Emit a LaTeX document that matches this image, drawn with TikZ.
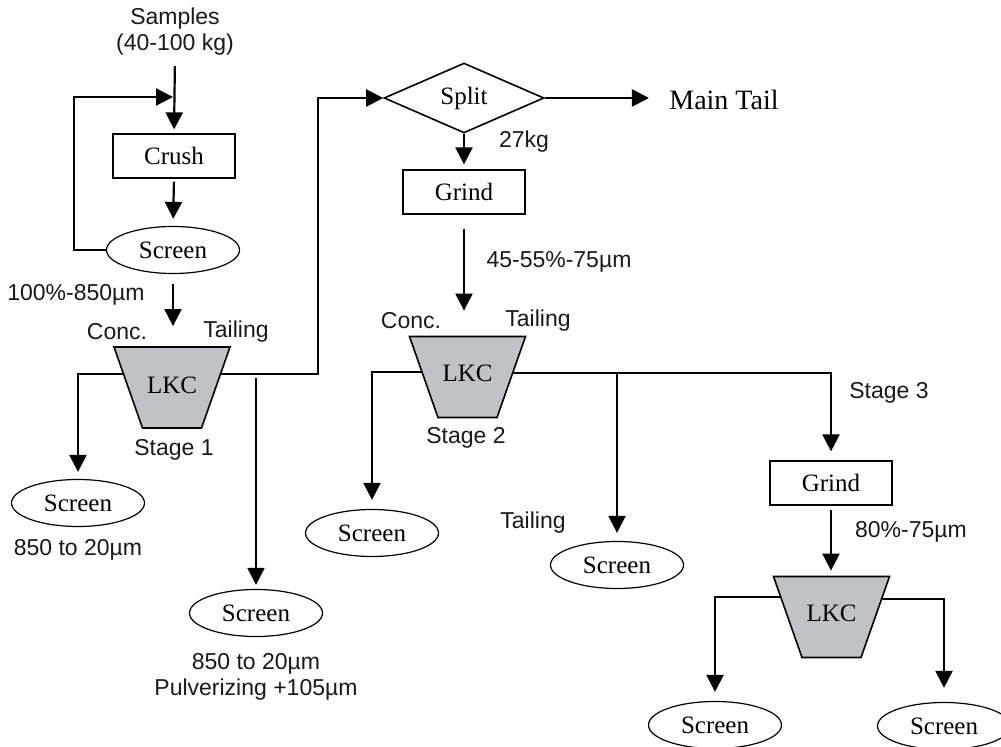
\documentclass[tikz,border=0pt]{standalone}
\usepackage{fontspec}
\setmainfont{Liberation Serif}
\newfontfamily\labelsans{Liberation Sans}
\usetikzlibrary{shapes.geometric,arrows.meta,backgrounds}
\definecolor{lkcgrey}{HTML}{C1C2C5}
\begin{document}
\begin{tikzpicture}[x=0.5pt,y=-0.5pt,
  serif/.style={font=\fontsize{12.5}{15}\selectfont},
  lbl/.style={font=\labelsans\fontsize{11.5}{13}\selectfont, inner sep=0pt, text=black!90},
  flow/.style={line width=1.1pt, -{Triangle[length=8.5pt,width=8.5pt]}},
  boxnode/.style={draw, line width=0.6pt, minimum width=61pt, minimum height=22pt, inner sep=0pt, serif},
  screennode/.style={draw, ellipse, line width=0.6pt, minimum width=66.5pt, minimum height=23.5pt, inner sep=0pt, serif},
  lkcnode/.style={inner sep=0pt, serif},
  lkcshape/.style={draw, fill=lkcgrey, line width=0.8pt, line join=miter},
  splitnode/.style={draw, diamond, minimum width=80pt, minimum height=26.5pt, inner sep=0pt, line width=0.8pt, serif}
]
\useasboundingbox (0,0) rectangle (1001,747);

% ---- nodes
\node[lbl, align=center] (samples) at (175,32) {Samples\\(40-100 kg)};
\node[boxnode] (crush) at (174,156) {Crush};
\node[screennode] (scr0) at (173,250) {Screen};
\coordinate (in0) at (173,97);
\node[lbl] (t850) at (76,295) {100\%-850µm};

\node[lkcnode] (lkc1) at (172,385) {LKC};
\coordinate (lkc1c) at (172,387.5);
\node[lbl] (conc1) at (117,332) {Conc.};
\node[lbl] (tail1) at (236,332) {Tailing};
\node[lbl] (stage1) at (174,450) {Stage 1};
\node[screennode] (scr1) at (78,503) {Screen};
\node[lbl] (r1) at (78,550) {850 to 20µm};
\coordinate (t1) at (318,374);
\coordinate (t1b) at (256,378);
\node[screennode] (scr2) at (256,613) {Screen};
\node[lbl] (r2) at (256,664) {850 to 20µm};
\node[lbl] (r3) at (256,690) {Pulverizing +105µm};

\node[splitnode] (split) at (464,98) {Split};
\node[serif, font=\fontsize{14}{16}\selectfont, inner sep=0pt] (mt) at (724,100) {Main Tail};
\node[lbl] (kg) at (524,142) {27kg};
\node[boxnode] (grind2) at (464,192) {Grind};
\node[lbl] (g2lbl) at (559,262) {45-55\%-75µm};

\node[lkcnode] (lkc2) at (467.5,373) {LKC};
\coordinate (lkc2c) at (467.5,377);
\node[lbl] (conc2) at (411,321) {Conc.};
\node[lbl] (tail2) at (538,321) {Tailing};
\node[lbl] (stage2) at (466,438) {Stage 2};
\node[screennode] (scr3) at (372,533) {Screen};
\coordinate (b2) at (617,373);
\node[screennode] (scr4) at (617,565) {Screen};
\node[lbl] (tail3) at (533,523) {Tailing};

\node[lbl] (stage3) at (889,393) {Stage 3};
\node[boxnode] (grind3) at (831,483) {Grind};
\node[lbl] (g3lbl) at (911,532) {80\%-75µm};
\node[lkcnode] (lkc3) at (831.5,613) {LKC};
\coordinate (lkc3c) at (831.5,617);
\node[screennode] (scr5) at (715,725) {Screen};
\node[screennode] (scr6) at (944,726) {Screen};

% ---- connectors and LKC bodies (behind the LKC labels)
\begin{scope}[on background layer]
\draw[flow, shorten >=3.5pt] ([yshift=6.75pt]lkc1c) -| (scr1.north);
\draw[flow] ([yshift=6.75pt]lkc1c) -- (t1) |- (split.west);
\draw[flow, shorten >=4.5pt] ([yshift=2.5pt]lkc2c) -| (scr3.north);
\draw[flow, shorten >=4.5pt] ([yshift=2pt]lkc2c) -| (grind3.north);
\draw[flow, shorten >=4.5pt] ([yshift=10pt]lkc3c) -| (scr5.north);
\draw[flow, shorten >=7pt] ([yshift=9pt]lkc3c) -| (scr6.north);
\foreach \c in {lkc1c,lkc2c,lkc3c}
  \draw[lkcshape] (\c) ++(-58,-40.5) -- ++(116,0) -- ++(-28.5,81) -- ++(-59,0) -- cycle;
\end{scope}

\draw[flow, shorten <=5pt, shorten >=2pt] (samples.south) -- (crush.north);
\draw[flow] (scr0.west) -- ++(-32,0) |- (in0);
\draw[flow, shorten <=1.5pt, shorten >=3.5pt] (crush.south) -- (scr0.north);
\draw[flow, shorten <=5pt] (scr0.south) -- ++(0,52);
\draw[flow, shorten >=2pt] (t1b) -- (t1b |- scr2.north);
\draw[flow, shorten >=10pt] (split.east) -- (split.east -| mt.west);
\draw[flow, shorten >=2.5pt] (split.south) -- (grind2.north);
\draw[flow, shorten <=7pt] (grind2.south) -- ++(0,96);
\draw[flow, shorten >=4pt] (b2) -- (scr4.north);
\draw[flow, shorten <=2pt] (grind3.south) -- ++(0,65);
\end{tikzpicture}
\end{document}
